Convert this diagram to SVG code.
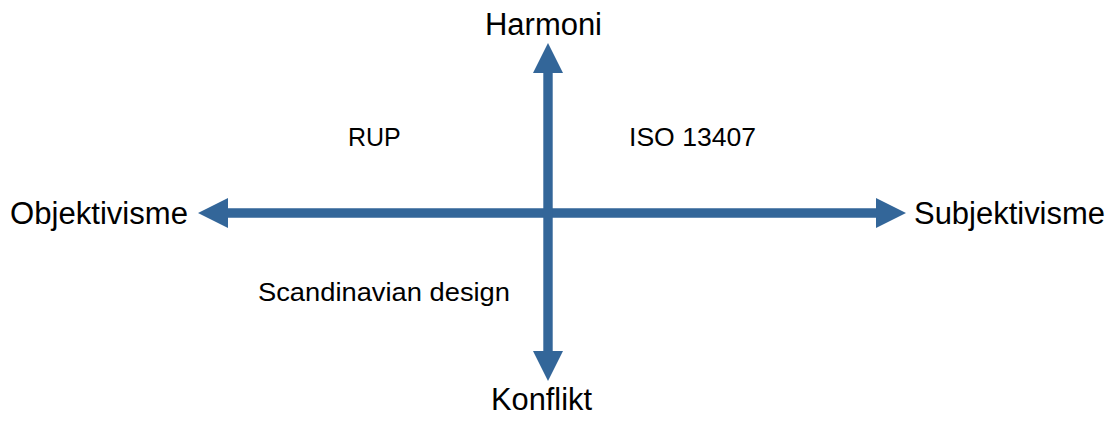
<svg xmlns="http://www.w3.org/2000/svg" width="1112" height="421" viewBox="0 0 1112 421">
  <style>
    .axis { fill: #336699; stroke: none; }
    .pole { font-family: "Liberation Sans", Arial, sans-serif; font-size: 31px; fill: #000; }
    .item { font-family: "Liberation Sans", Arial, sans-serif; font-size: 25px; fill: #000; }
  </style>
  <rect width="1112" height="421" fill="#fff"/>
  <!-- two double-headed axes crossing at (548, 213) -->
  <g id="connectors">
    <polygon class="axis" points="198,213 228,198 228,208.3 876,208.3 876,198 906,213 876,228 876,217.7 228,217.7 228,228"/>
    <polygon class="axis" points="548,43 563,73 552.7,73 552.7,351 563,351 548,381 533,351 543.3,351 543.3,73 533,73"/>
  </g>
  <g id="harmoni"><text class="pole" x="485" y="35" textLength="117" lengthAdjust="spacingAndGlyphs">Harmoni</text></g>
  <g id="konflikt"><text class="pole" x="491" y="410" textLength="101" lengthAdjust="spacingAndGlyphs">Konflikt</text></g>
  <g id="objektivisme"><text class="pole" x="10" y="224" textLength="178" lengthAdjust="spacingAndGlyphs">Objektivisme</text></g>
  <g id="subjektivisme"><text class="pole" x="914" y="224" textLength="191" lengthAdjust="spacingAndGlyphs">Subjektivisme</text></g>
  <g id="rup"><text class="item" x="348" y="146">RUP</text></g>
  <g id="iso"><text class="item" x="629" y="146" textLength="127" lengthAdjust="spacingAndGlyphs">ISO 13407</text></g>
  <g id="scandinavian"><text class="item" x="258" y="301" textLength="252" lengthAdjust="spacingAndGlyphs">Scandinavian design</text></g>
</svg>
